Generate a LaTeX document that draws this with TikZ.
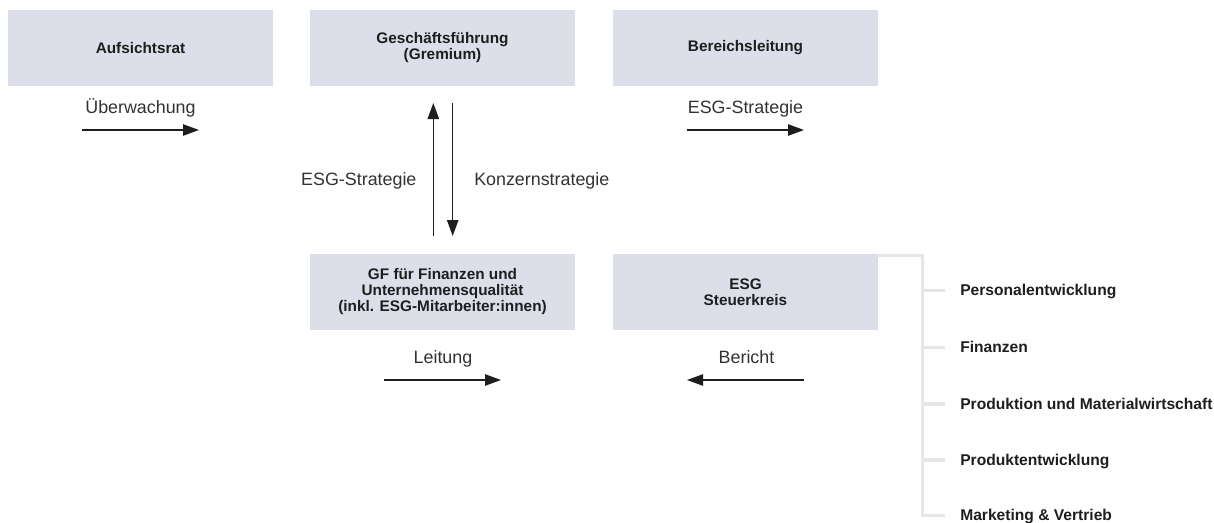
\documentclass[tikz,border=0pt]{standalone}
\usepackage{fontspec}
\setmainfont{Liberation Sans}
\usetikzlibrary{arrows.meta}
\definecolor{boxfill}{RGB}{220,223,233}
\definecolor{brgray}{RGB}{230,230,230}
\definecolor{txt}{RGB}{30,30,30}
\definecolor{lbltxt}{RGB}{50,50,50}
\begin{document}
\begin{tikzpicture}[x=0.75pt,y=-0.75pt,
  box/.style={fill=boxfill, minimum width=198.75pt, minimum height=57pt, inner sep=0pt, align=center,
    font=\fontsize{11.5}{12}\selectfont\bfseries, text=txt},
  lbl/.style={font=\fontsize{13.4}{15}\selectfont, text=lbltxt, inner sep=0pt},
  arr/.style={draw=txt, line width=1.1pt, -{Triangle[length=12pt,width=8.5pt]}},
  item/.style={font=\fontsize{11.7}{12}\selectfont\bfseries, text=txt, anchor=base west, inner sep=0pt},
  bracket/.style={draw=brgray, line width=2.4pt}]
\useasboundingbox (0,0) rectangle (1214,522);

% boxes
\node[box] (auf) at (140.5,48) {Aufsichtsrat};
\node[box] (gf)  at (442.5,48) {Geschäftsführung\\(Gremium)};
\node[box] (bl)  at (745.5,48) {Bereichsleitung};
\node[box] (gff) at (442.5,292) {GF für Finanzen und\\Unternehmensqualität\\(inkl. ESG-Mitarbeiter:innen)};
\node[box] (esg) at (745.5,292) {ESG\\Steuerkreis};

% labels
\node[lbl, anchor=base] (lu) at (140.5,113.5) {Überwachung};
\node[lbl, anchor=base] (le) at (745.5,113.5) {ESG-Strategie};
\node[lbl, anchor=base east] (lm) at (416.7,185) {ESG-Strategie};
\node[lbl, anchor=base west] (lk) at (474,185) {Konzernstrategie};
\node[lbl, anchor=base] (ll) at (443,363.3) {Leitung};
\node[lbl, anchor=base] (lb) at (746.5,363.3) {Bericht};

% arrow end points
\coordinate (u1) at (82,130);   \coordinate (u2) at (199,130);
\coordinate (e1) at (687,130);  \coordinate (e2) at (804,130);
\coordinate (l1) at (384,380);  \coordinate (l2) at (501,380);
\coordinate (b1) at (804,380);  \coordinate (b2) at (687,380);
\coordinate (up1) at (433.3,236); \coordinate (up2) at (433.3,103);
\coordinate (dn1) at (452.7,103); \coordinate (dn2) at (452.7,236);

\draw[arr] (u1) -- (u2);
\draw[arr] (e1) -- (e2);
\draw[arr] (l1) -- (l2);
\draw[arr] (b1) -- (b2);
\draw[arr] (up1) -- (up2);
\draw[arr] (dn1) -- (dn2);

% bracket
\coordinate (bs) at (878,255.5);
\coordinate (bt) at (922.5,255.5);
\coordinate (bb) at (922.5,515.5);
\coordinate (t1) at (922.5,290.7); \coordinate (s1) at (945,290.7);
\coordinate (t2) at (922.5,347.3); \coordinate (s2) at (945,347.3);
\coordinate (t3) at (922.5,404);   \coordinate (s3) at (945,404);
\coordinate (t4) at (922.5,460);   \coordinate (s4) at (945,460);
\coordinate (s5) at (945,515.5);
\draw[bracket] (bs) -- (bt) -- (bb) -- (s5);
\draw[bracket] (t1) -- (s1);
\draw[bracket] (t2) -- (s2);
\draw[bracket] (t3) -- (s3);
\draw[bracket] (t4) -- (s4);

% items
\node[item] (i1) at (960,295.7) {Personalentwicklung};
\node[item] (i2) at (960,352.5) {Finanzen};
\node[item] (i3) at (960,409) {Produktion und Materialwirtschaft};
\node[item] (i4) at (960,465) {Produktentwicklung};
\node[item] (i5) at (960,520.3) {Marketing \& Vertrieb};
\end{tikzpicture}
\end{document}
